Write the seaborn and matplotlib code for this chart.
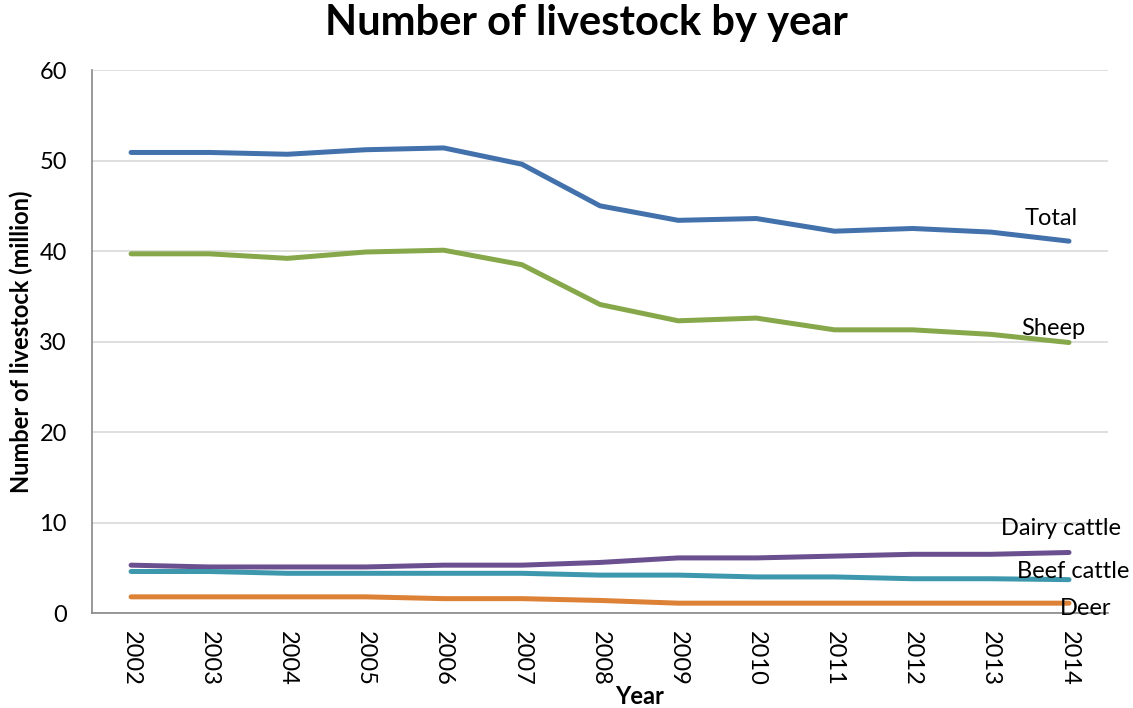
import pandas as pd
import matplotlib
matplotlib.use("Agg")
import matplotlib.pyplot as plt
import seaborn as sns

years = list(range(2002, 2015))
total = [50.9, 50.9, 50.7, 51.2, 51.4, 49.6, 45.0, 43.4, 43.6, 42.2, 42.5, 42.1, 41.1]
sheep = [39.7, 39.7, 39.2, 39.9, 40.1, 38.5, 34.1, 32.3, 32.6, 31.3, 31.3, 30.8, 29.9]
dairy = [5.3, 5.1, 5.1, 5.1, 5.3, 5.3, 5.6, 6.1, 6.1, 6.3, 6.5, 6.5, 6.7]
beef = [4.6, 4.6, 4.4, 4.4, 4.4, 4.4, 4.2, 4.2, 4.0, 4.0, 3.8, 3.8, 3.7]
deer = [1.8, 1.8, 1.8, 1.8, 1.6, 1.6, 1.4, 1.1, 1.1, 1.1, 1.1, 1.1, 1.1]

series = ["Total", "Sheep", "Dairy cattle", "Beef cattle", "Deer"]
colors = ["#4271AC", "#86A84A", "#6B5090", "#3D98AE", "#DC8136"]

# label offsets from the last point (points)
label_offsets = {
    "Total": (-13, 16),
    "Sheep": (-11, 10),
    "Dairy cattle": (-6, 17),
    "Beef cattle": (3, 6),
    "Deer": (12, -4),
}

df = pd.DataFrame({"Year": years, "Total": total, "Sheep": sheep,
                   "Dairy cattle": dairy, "Beef cattle": beef, "Deer": deer})
long_df = df.melt(id_vars="Year", var_name="Type", value_name="Count")

sns.set_style("white")
plt.rcParams['font.family'] = ['Lato', 'DejaVu Sans']
for key in ["text.color", "axes.labelcolor", "xtick.color", "ytick.color"]:
    plt.rcParams[key] = "black"

fig = plt.figure(figsize=(11.33, 7.08), dpi=100)
ax = fig.add_axes([0.0812, 0.134, 0.8968, 0.767])

sns.lineplot(data=long_df, x="Year", y="Count", hue="Type", hue_order=series,
             palette=colors, linewidth=3.6, legend=False, ax=ax,
             solid_capstyle="round")

for name in series:
    last = df[name].iloc[-1]
    ax.annotate(name, (years[-1], last), xytext=label_offsets[name],
                textcoords="offset points", ha="center", va="center",
                fontsize=17, color="black")

ax.set_xlim(years[0] - 0.5, years[-1] + 0.5)
ax.set_ylim(0, 60)
ax.set_yticks(range(0, 61, 10))
ax.set_xticks(years)
ax.set_xticklabels([str(y) for y in years], rotation=-90, fontsize=17)
ax.tick_params(axis="y", labelsize=17, length=0, pad=18)
ax.tick_params(axis="x", length=0, pad=13)
ax.grid(axis="y", color="#D9D9D9", linewidth=1.2)
ax.set_axisbelow(True)

for side in ["top", "right"]:
    ax.spines[side].set_visible(False)
for side in ["left", "bottom"]:
    ax.spines[side].set_color("#888888")
    ax.spines[side].set_linewidth(1.2)

ax.set_xlabel("Year", fontsize=17, fontweight="bold")
ax.xaxis.set_label_coords(0.539, -0.133)
ax.set_ylabel("Number of livestock (million)", fontsize=17, fontweight="bold")
ax.yaxis.set_label_coords(-0.058, 0.5)
fig.suptitle("Number of livestock by year", fontsize=30, fontweight="bold", x=0.518, y=0.995)

fig.savefig("out.png", dpi=100)
